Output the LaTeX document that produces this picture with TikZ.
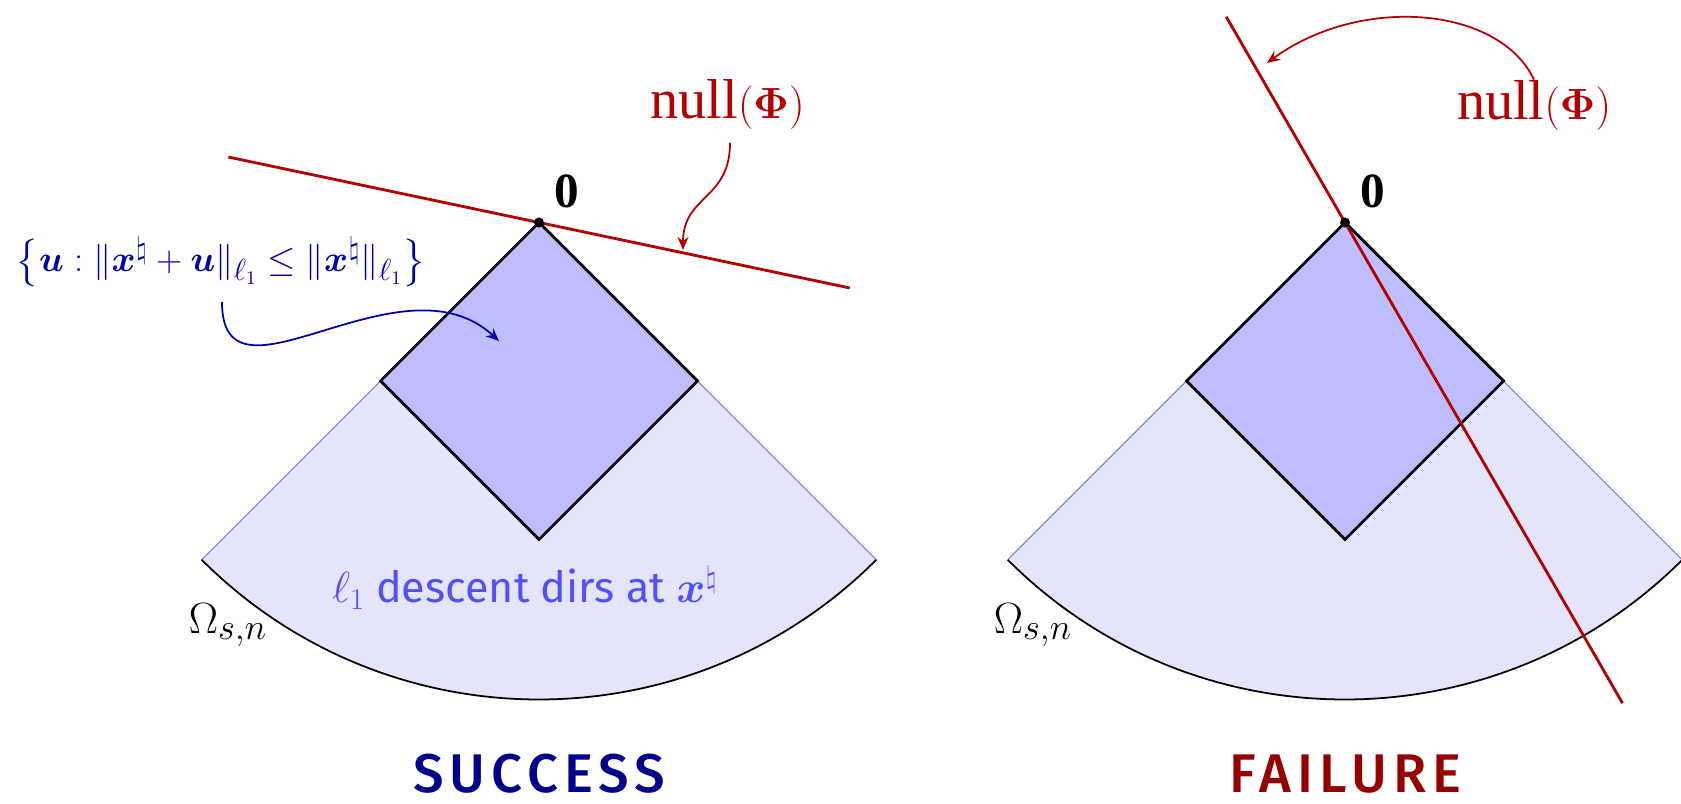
\documentclass[tikz,border=0pt]{standalone}
\usepackage{amsmath}
\usepackage{amssymb}
\usepackage{fontspec}
\setmainfont{Liberation Serif}
\setsansfont{Fira Sans}
\newfontfamily\verdictfont{Fira Sans Medium}[LetterSpace=11]
\usepackage{tikz}
\usetikzlibrary{arrows.meta}
\definecolor{NullRed}{RGB}{180,0,0}
\definecolor{SetBlue}{RGB}{0,0,170}
\definecolor{ConeFill}{RGB}{228,228,250}
\definecolor{BallFill}{RGB}{190,190,255}
\definecolor{ConeEdge}{RGB}{110,110,240}
\definecolor{DescText}{RGB}{80,80,255}
\definecolor{WinBlue}{RGB}{0,0,140}
\definecolor{LoseRed}{RGB}{150,0,0}

\begin{document}
\begin{tikzpicture}[>={Stealth[length=2.6mm,width=2.2mm]}]
  \tikzstyle{lbl}=[inner sep=0pt,font=\fontsize{28}{32}\selectfont]
  \tikzstyle{verdict}=[inner sep=0pt,anchor=base,font=\verdictfont\fontsize{31}{36}\selectfont]
  \tikzstyle{nullline}=[draw=NullRed,line width=1.6pt]
  \tikzstyle{ball}=[fill=BallFill,draw=black,line width=1.6pt,line join=miter]
  \useasboundingbox (0,0) rectangle (33.62,16.08);
  \coordinate (o1) at (10.78,11.63);
  \coordinate (o2) at (26.9,11.63);
  % success panel
  \fill[ConeFill] (o1) -- ++(225:9.54) arc[start angle=225,end angle=315,radius=9.54] -- cycle;
  \draw[ConeEdge,line width=0.5pt] ([shift={(-3.17,-3.17)}]o1) -- ([shift={(225:9.54)}]o1);
  \draw[ConeEdge,line width=0.5pt] ([shift={(3.17,-3.17)}]o1) -- ([shift={(315:9.54)}]o1);
  \draw[line width=1pt] ([shift={(225:9.54)}]o1) arc[start angle=225,end angle=315,radius=9.54];
  \draw[ball] (o1) -- ++(-3.17,-3.17) -- ++(3.17,-3.17) -- ++(3.17,3.17) -- cycle;
  \coordinate (n1a) at ([shift={(168.1:6.35)}]o1);
  \coordinate (n1b) at ([shift={(-11.9:6.35)}]o1);
  \draw[nullline] (n1a) -- (n1b);
  \fill (o1) circle (0.1);
  \node[lbl] (z1) at ([shift={(0.56,0.63)}]o1) {$\mathbf{0}$};
  \node[lbl,text=NullRed,font=\fontsize{32}{36}\selectfont] (null1) at (14.55,14.0) {$\mathrm{null}(\boldsymbol{\Phi})$};
  \node[lbl,font=\fontsize{30.5}{34}\selectfont] (om1) at (4.56,3.58) {$\Omega_{s,n}$};
  \node[inner sep=0pt,text=SetBlue,font=\fontsize{22.8}{26}\selectfont] (set1) at (4.42,10.84)
    {$\big\{\boldsymbol{u}:\|\boldsymbol{x}^\natural+\boldsymbol{u}\|_{\ell_1}\leq\|\boldsymbol{x}^\natural\|_{\ell_1}\big\}$};
  \node[inner sep=0pt,anchor=base,text=DescText,font=\sffamily\fontsize{24.5}{29}\selectfont] (desc1) at (10.5,4.02)
    {$\ell_1$ descent dirs at $\boldsymbol{x}^\natural$};
  \coordinate (t1) at (13.66,11.08);
  \coordinate (t2) at (9.98,9.26);
  \draw[->,NullRed,line width=1pt] (14.6,13.22) .. controls +(0,-1.14) and +(0,1.1) .. (t1);
  \draw[->,SetBlue,line width=1pt] (4.44,10.04) .. controls +(0,-2.36) and +(-1.98,1.82) .. (t2);
  \node[verdict,text=WinBlue] (win) at (10.78,0.22) {SUCCESS};
  % failure panel
  \fill[ConeFill] (o2) -- ++(225:9.54) arc[start angle=225,end angle=315,radius=9.54] -- cycle;
  \draw[ConeEdge,line width=0.5pt] ([shift={(-3.17,-3.17)}]o2) -- ([shift={(225:9.54)}]o2);
  \draw[ConeEdge,line width=0.5pt] ([shift={(3.17,-3.17)}]o2) -- ([shift={(315:9.54)}]o2);
  \draw[line width=1pt] ([shift={(225:9.54)}]o2) arc[start angle=225,end angle=315,radius=9.54];
  \draw[ball] (o2) -- ++(-3.17,-3.17) -- ++(3.17,-3.17) -- ++(3.17,3.17) -- cycle;
  \coordinate (n2a) at ([shift={(120:4.75)}]o2);
  \coordinate (n2b) at ([shift={(-60:11.1)}]o2);
  \draw[nullline] (n2a) -- (n2b);
  \fill (o2) circle (0.1);
  \node[lbl] (z2) at ([shift={(0.56,0.63)}]o2) {$\mathbf{0}$};
  \node[lbl,text=NullRed,font=\fontsize{32}{36}\selectfont] (null2) at (30.68,13.98) {$\mathrm{null}(\boldsymbol{\Phi})$};
  \node[lbl,font=\fontsize{30.5}{34}\selectfont] (om2) at (20.66,3.58) {$\Omega_{s,n}$};
  \coordinate (t3) at (25.34,14.82);
  \draw[->,NullRed,line width=1pt] (null2.north) .. controls +(-0.7,1.48) and +(1.86,1.36) .. (t3);
  \node[verdict,text=LoseRed] (lose) at (26.91,0.22) {FAILURE};
\end{tikzpicture}
\end{document}
